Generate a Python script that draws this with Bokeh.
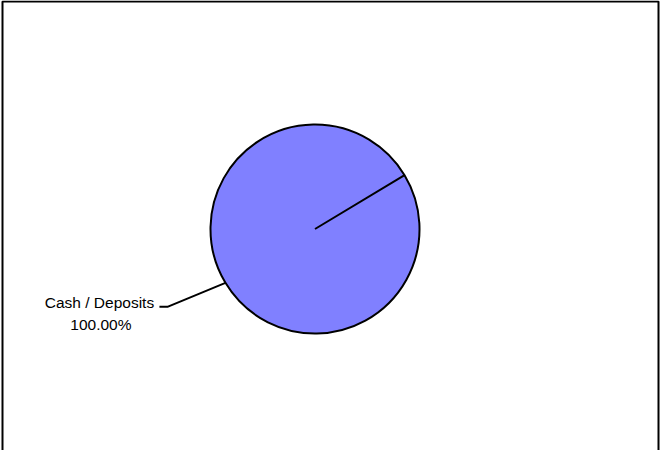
import math
from bokeh.plotting import figure
from bokeh.models import Range1d, BoxAnnotation, ColumnDataSource
from bokeh.core.properties import value
from bokeh.embed import file_html
from bokeh.resources import INLINE

# ---- data ----
categories = ["Cash / Deposits"]
values = [100.0]
colors = ["#8080FF"]
start_deg = 31.0  # orientation of first slice boundary (degrees, ccw from east)

# ---- layout (pixel-like data space) ----
W, H = 660, 450
cx, cy, r = 314.5, 221.5, 104.5

p = figure(width=W, height=H, x_range=Range1d(0, W), y_range=Range1d(0, H),
           output_backend="svg", toolbar_location=None, min_border=0,
           x_axis_location=None, y_axis_location=None)
p.grid.visible = False
p.outline_line_color = None
p.background_fill_color = "white"
p.border_fill_color = "white"

# chart border (bottom edge lies outside the visible area)
p.add_layout(BoxAnnotation(left=2, right=658, top=449, bottom=-20,
                           fill_color=None, fill_alpha=0, line_color="black",
                           line_alpha=1.0, line_width=2))

total = sum(values)
starts, ends, mids = [], [], []
a = math.radians(start_deg)
for v in values:
    span = 2 * math.pi * v / total
    draw_span = min(span, 2 * math.pi - 1e-4)  # avoid degenerate full-circle arc
    starts.append(a)
    ends.append(a - draw_span)
    mids.append(a - span / 2)
    a -= span

src = ColumnDataSource(dict(start=starts, end=ends, color=colors))
p.wedge(x=cx, y=cy, radius=r, start_angle="start", end_angle="end",
        direction="clock", fill_color="color", line_color="black",
        line_width=2, source=src)

# labels with leader lines
for cat, v, m in zip(categories, values, mids):
    ex, ey = cx + r * math.cos(m), cy + r * math.sin(m)
    elbow = (ex - 58, ey - 24)
    end = (elbow[0] - 8, elbow[1])
    p.line([ex, elbow[0], end[0]], [ey, elbow[1], end[1]],
           line_color="black", line_width=2)
    tx = end[0] - 60
    p.text(x=[tx], y=[end[1] + 4.7], text=[cat], text_align="center",
           text_baseline="alphabetic", text_font=value("Liberation Sans"),
           text_font_size="15.5px", text_color="black")
    p.text(x=[tx + 1.5], y=[end[1] - 17.3], text=[f"{v:.2f}%"], text_align="center",
           text_baseline="alphabetic", text_font=value("Liberation Sans"),
           text_font_size="15.5px", text_color="black")

open("out.html", "w").write(file_html(p, INLINE))
